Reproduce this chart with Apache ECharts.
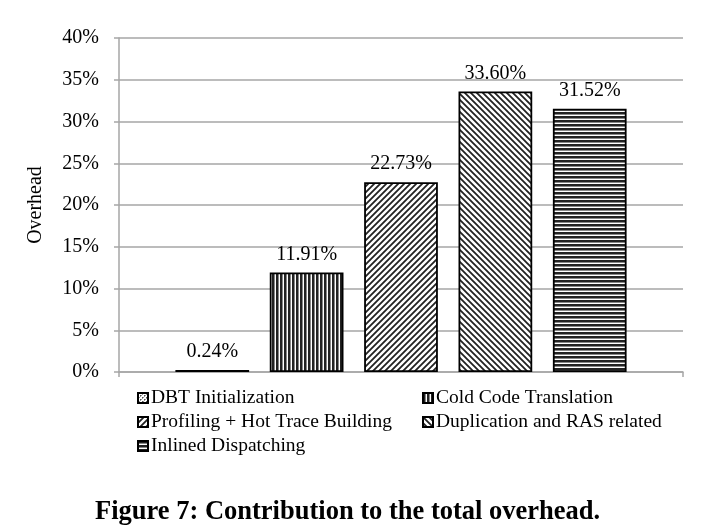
<!DOCTYPE html>
<html>
<head>
<meta charset="utf-8">
<script src="https://cdn.jsdelivr.net/npm/echarts@6/dist/echarts.min.js"></script>
<style>
  html, body { margin: 0; padding: 0; background: #fff; }
  #main { width: 704px; height: 528px; }
</style>
</head>
<body>
<div id="main"></div>
<script>
// ---- data ----
var seriesNames = ['DBT Initialization', 'Cold Code Translation', 'Profiling + Hot Trace Building',
                   'Duplication and RAS related', 'Inlined Dispatching'];
var overheadValues = [0.24, 11.91, 22.73, 33.60, 31.52];
var categories = [''];
var yTicks = { min: 0, max: 40, interval: 5 };

var FONT = '"Liberation Serif", "DejaVu Serif", serif';
var GRAY = '#a6a6a6';

// ---- fill patterns (tiny canvases repeated) ----
function makeTile(size, draw) {
    var c = document.createElement('canvas');
    c.width = size; c.height = size;
    var ctx = c.getContext('2d');
    ctx.fillStyle = '#fff';
    ctx.fillRect(0, 0, size, size);
    draw(ctx, size);
    return { image: c, repeat: 'repeat' };
}

var patterns = [
    // fine dotted grey
    makeTile(4, function (ctx) {
        ctx.fillStyle = '#555';
        ctx.fillRect(0, 0, 1, 1); ctx.fillRect(2, 2, 1, 1);
        ctx.fillStyle = '#999';
        ctx.fillRect(1, 0, 1, 1); ctx.fillRect(3, 2, 1, 1);
        ctx.fillRect(0, 1, 1, 1); ctx.fillRect(2, 3, 1, 1);
    }),
    // vertical stripes
    makeTile(4, function (ctx, s) {
        ctx.fillStyle = '#222';
        ctx.fillRect(0, 0, 2, s);
        ctx.fillStyle = '#888';
        ctx.fillRect(2, 0, 1, s);
    }),
    // "/" diagonals
    makeTile(6, function (ctx, s) {
        ctx.strokeStyle = '#222';
        ctx.lineWidth = 1.8;
        ctx.beginPath();
        ctx.moveTo(-1, s + 1); ctx.lineTo(s + 1, -1);
        ctx.moveTo(-1, 1); ctx.lineTo(1, -1);
        ctx.moveTo(s - 1, s + 1); ctx.lineTo(s + 1, s - 1);
        ctx.stroke();
    }),
    // "\" diagonals
    makeTile(6, function (ctx, s) {
        ctx.strokeStyle = '#222';
        ctx.lineWidth = 1.8;
        ctx.beginPath();
        ctx.moveTo(-1, -1); ctx.lineTo(s + 1, s + 1);
        ctx.moveTo(s - 1, -1); ctx.lineTo(s + 1, 1);
        ctx.moveTo(-1, s - 1); ctx.lineTo(1, s + 1);
        ctx.stroke();
    }),
    // horizontal stripes
    makeTile(4, function (ctx, s) {
        ctx.fillStyle = '#222';
        ctx.fillRect(0, 0, s, 2);
        ctx.fillStyle = '#888';
        ctx.fillRect(0, 2, s, 1);
    })
];

var chart = echarts.init(document.getElementById('main'), null, { renderer: 'canvas' });

var series = seriesNames.map(function (name, i) {
    return {
        name: name,
        type: 'bar',
        data: [overheadValues[i]],
        barGap: '28%',
        barCategoryGap: '20%',
        itemStyle: {
            color: patterns[i],
            borderColor: '#000',
            borderWidth: 1.8
        },
        label: {
            show: true,
            position: 'top',
            distance: 8,
            color: '#000',
            fontFamily: FONT,
            fontSize: 20,
            formatter: function (p) { return p.value.toFixed(2) + '%'; }
        },
        emphasis: { disabled: true }
    };
});

var legendCommon = {
    orient: 'vertical',
    icon: 'rect',
    itemWidth: 10,
    itemHeight: 10,
    itemGap: 4,
    itemStyle: { borderColor: '#000', borderWidth: 2 },
    textStyle: { fontFamily: FONT, fontSize: 19.5, color: '#000', lineHeight: 19, padding: [0, 0, 0, -2] },
    selectedMode: false,
    padding: 0
};

var option = {
    animation: false,
    backgroundColor: '#fff',
    title: {
        text: 'Figure 7: Contribution to the total overhead.',
        left: 90,
        top: 494,
        textStyle: { fontFamily: FONT, fontSize: 26.5, fontWeight: 'bold', color: '#000' }
    },
    grid: { left: 119, right: 21, top: 38, bottom: 156 },
    legend: [
        Object.assign({}, legendCommon, {
            left: 137, top: 388,
            data: [seriesNames[0], seriesNames[2], seriesNames[4]]
        }),
        Object.assign({}, legendCommon, {
            left: 422, top: 388,
            data: [seriesNames[1], seriesNames[3]]
        })
    ],
    xAxis: {
        type: 'category',
        data: categories,
        axisLine: { lineStyle: { color: GRAY, width: 1.5 } },
        axisTick: { show: true, length: 5, lineStyle: { color: GRAY, width: 1.5 } },
        axisLabel: { show: false }
    },
    yAxis: {
        type: 'value',
        min: yTicks.min,
        max: yTicks.max,
        interval: yTicks.interval,
        name: 'Overhead',
        nameLocation: 'middle',
        nameGap: 73,
        nameTextStyle: { fontFamily: FONT, fontSize: 20, color: '#000' },
        axisLine: { show: true, lineStyle: { color: GRAY, width: 1.5 } },
        axisTick: { show: true, length: 5, lineStyle: { color: GRAY, width: 1.5 } },
        axisLabel: {
            fontFamily: FONT, fontSize: 20, color: '#000', margin: 20,
            formatter: '{value}%'
        },
        splitLine: { lineStyle: { color: GRAY, width: 1.5 } }
    },
    series: series
};

chart.setOption(option);
</script>
</body>
</html>
